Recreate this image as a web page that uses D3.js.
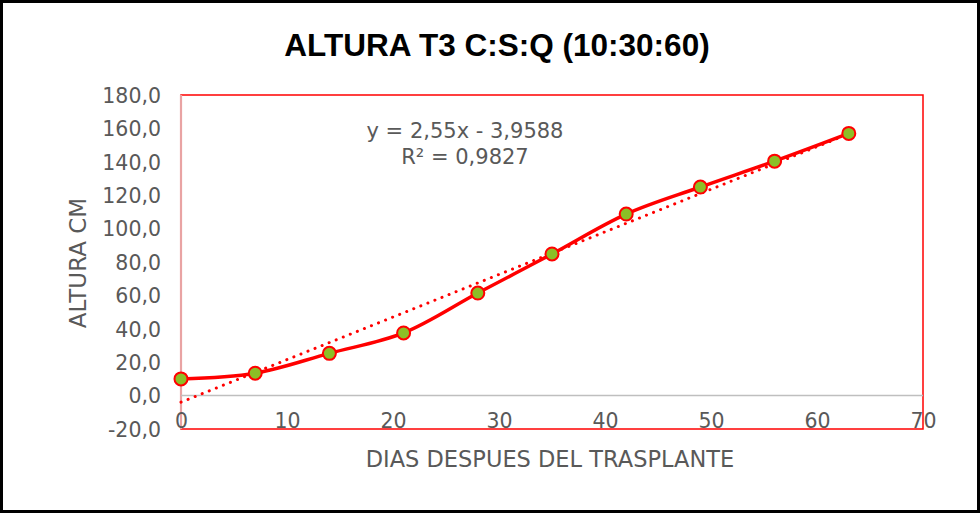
<!DOCTYPE html>
<html><head><meta charset="utf-8">
<script src="https://cdn.jsdelivr.net/npm/d3@7"></script>
<style>html,body{margin:0;padding:0;background:#fff;}</style>
</head><body>
<svg id="c" width="980" height="513"></svg>
<script>
const days = [0, 7, 14, 21, 28, 35, 42, 49, 56, 63];
const altura = [10.0, 13.4, 25.3, 37.5, 61.4, 84.8, 108.7, 124.9, 140.4, 157.0];
const xTicks = [0, 10, 20, 30, 40, 50, 60, 70];
const yTicks = [-20, 0, 20, 40, 60, 80, 100, 120, 140, 160, 180];
const trendSlope = 2.55, trendIntercept = -3.9588;
const title = "ALTURA T3 C:S:Q (10:30:60)";
const xTitle = "DIAS DESPUES DEL TRASPLANTE";
const yTitle = "ALTURA CM";
const eqLines = ["y = 2,55x - 3,9588", "R² = 0,9827"];

const svg = d3.select("#c");
const W = 980, H = 513;
const L = 181, R = 923, T = 95, B = 429;
const font = "'DejaVu Sans', Verdana, sans-serif";
const grey = "#595959";

svg.append("rect").attr("x",1.5).attr("y",1.5).attr("width",W-3).attr("height",H-3)
  .attr("fill","#fff").attr("stroke","#000").attr("stroke-width",3);

const x = d3.scaleLinear().domain([0,70]).range([L,R]);
const y = d3.scaleLinear().domain([-20,180]).range([B,T]);
const fmt = v => d3.format(".1f")(v).replace(".", ",").replace("−","-");

// plot border
svg.append("rect").attr("x",L).attr("y",T).attr("width",R-L).attr("height",B-T)
  .attr("fill","none").attr("stroke","#ff0000").attr("stroke-width",1.5);
// left axis line (pinkish)
svg.append("line").attr("x1",L).attr("x2",L).attr("y1",T).attr("y2",B)
  .attr("stroke","#e9a3a3").attr("stroke-width",2.2);
// zero line
svg.append("line").attr("x1",L).attr("x2",R).attr("y1",y(0)).attr("y2",y(0))
  .attr("stroke","#bfbfbf").attr("stroke-width",1.5);

// y axis labels
const yAxis = d3.axisLeft(y).tickValues(yTicks).tickFormat(fmt).tickSize(0).tickPadding(0);
const gy = svg.append("g").attr("transform",`translate(161,0)`).call(yAxis);
gy.select(".domain").remove();
gy.selectAll("text").attr("font-family",font).attr("font-size",20.5).attr("fill",grey).attr("dy","0.36em");

// x axis labels
const xAxis = d3.axisBottom(x).tickValues(xTicks).tickFormat(d3.format("d")).tickSize(0).tickPadding(0);
const gx = svg.append("g").attr("transform",`translate(0,413)`).call(xAxis);
gx.select(".domain").remove();
gx.selectAll("text").attr("font-family",font).attr("font-size",20.5).attr("fill",grey).attr("dy","0.71em");

// titles
svg.append("text").attr("x",497).attr("y",56).attr("text-anchor","middle")
  .attr("font-family","'Liberation Sans', Arial, sans-serif").attr("font-weight","bold")
  .attr("font-size",31.5).attr("fill","#000").text(title);
svg.append("text").attr("x",550).attr("y",467).attr("text-anchor","middle")
  .attr("font-family",font).attr("font-size",22.5).attr("fill",grey).text(xTitle);
svg.append("text").attr("transform","translate(86,263) rotate(-90)").attr("text-anchor","middle")
  .attr("font-family",font).attr("font-size",23).attr("fill",grey).text(yTitle);

// trendline
const tx = [days[0], days[days.length-1]];
svg.append("line")
  .attr("x1",x(tx[0])).attr("y1",y(trendSlope*tx[0]+trendIntercept))
  .attr("x2",x(tx[1])).attr("y2",y(trendSlope*tx[1]+trendIntercept))
  .attr("stroke","#ff0000").attr("stroke-width",3).attr("stroke-linecap","round")
  .attr("stroke-dasharray","0.1 7.5");

// data line
const pts = days.map((d,i)=>[d, altura[i]]);
const line = d3.line().x(d=>x(d[0])).y(d=>y(d[1])).curve(d3.curveCatmullRom.alpha(0.5));
svg.append("path").datum(pts).attr("d",line).attr("fill","none")
  .attr("stroke","#ff0000").attr("stroke-width",3.5);

svg.selectAll("circle.m").data(pts).join("circle").attr("class","m")
  .attr("cx",d=>x(d[0])).attr("cy",d=>y(d[1])).attr("r",6.5)
  .attr("fill","#8cbf26").attr("stroke","#ff0000").attr("stroke-width",2);

// equation
const eq = svg.append("text").attr("text-anchor","middle").attr("font-family",font)
  .attr("font-size",21).attr("fill",grey);
eq.append("tspan").attr("x",465).attr("y",138).text(eqLines[0]);
eq.append("tspan").attr("x",465).attr("y",164).text(eqLines[1]);
</script>
</body></html>
